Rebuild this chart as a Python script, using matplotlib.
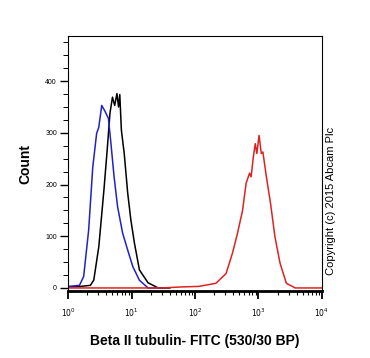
import matplotlib
matplotlib.use('Agg')
import matplotlib.pyplot as plt
from matplotlib.ticker import LogLocator, MultipleLocator

plt.rcParams['font.family'] = ['Liberation Sans', 'DejaVu Sans']

# blue histogram
blue_x = [1.0, 1.26, 1.51, 1.76, 2.11, 2.45, 2.82, 3.05, 3.39, 3.77, 4.32, 4.68,
          5.31, 6.03, 7.24, 8.71, 10.5, 13.3, 18.2, 30.0]
blue_y = [3, 4, 5, 22, 112, 234, 299, 311, 353, 343, 328, 286,
          215, 157, 106, 73, 41, 15, 0, 0]

# black histogram
black_x = [1.0, 1.58, 2.24, 2.54, 3.05, 3.67, 4.17, 4.57, 5.01, 5.43, 5.89, 6.24,
           6.53, 6.92, 7.67, 8.71, 9.77, 11.1, 13.3, 18.2, 26.3, 40.0]
black_y = [2, 3, 5, 15, 80, 189, 273, 338, 369, 353, 376, 350,
           374, 305, 260, 183, 131, 87, 35, 10, 0, 0]

# red histogram
red_x = [1.0, 30, 62, 115, 214, 309, 389, 468, 562, 638, 724, 767, 832, 891,
         944, 1023, 1109, 1175, 1334, 1549, 1820, 2188, 2754, 3802, 10000]
red_y = [0, 0, 2, 3, 9, 28, 67, 106, 150, 202, 222, 215, 254, 279,
         260, 295, 260, 263, 215, 164, 99, 48, 9, 0, 0]

y_ticks = [0, 100, 200, 300, 400]
x_ticks = [1, 10, 100, 1000, 10000]
x_ticklabels = ['$10^0$', '$10^1$', '$10^2$', '$10^3$', '$10^4$']

fig = plt.figure(figsize=(3.70, 3.58), dpi=100)
ax = fig.add_axes([0.184, 0.187, 0.686, 0.712])

ax.plot(black_x, black_y, color='black', lw=1.1)
ax.plot(blue_x, blue_y, color='#2222c4', lw=1.1)
ax.plot(red_x, red_y, color='#dd2222', lw=1.1)

ax.set_xscale('log')
ax.set_xlim(1, 10000)
ax.set_ylim(-6, 487)

ax.set_yticks(y_ticks)
ax.yaxis.set_minor_locator(MultipleLocator(25))
ax.set_xticks(x_ticks)
ax.set_xticklabels(x_ticklabels)
ax.xaxis.set_minor_locator(LogLocator(base=10, subs=range(2, 10)))

ax.tick_params(axis='y', which='major', length=6, width=1.0, labelsize=5, pad=2)
ax.tick_params(axis='y', which='minor', length=3.5, width=0.7)
ax.tick_params(axis='x', which='major', length=6, width=1.3, labelsize=5.5, pad=5)
ax.tick_params(axis='x', which='minor', length=3, width=0.8)

for s in ['left', 'top', 'right']:
    ax.spines[s].set_linewidth(0.8)
ax.spines['bottom'].set_linewidth(2.0)

ax.set_ylabel('Count', fontsize=10, fontweight='bold')
ax.yaxis.set_label_coords(-0.14, 0.5)
ax.set_xlabel('Beta II tubulin- FITC (530/30 BP)', fontsize=10, fontweight='bold')
ax.xaxis.set_label_coords(0.5, -0.17)

fig.text(0.895, 0.438, 'Copyright (c) 2015 Abcam Plc', rotation=90, fontsize=8,
         ha='center', va='center')

fig.savefig('out.png', dpi=100)
